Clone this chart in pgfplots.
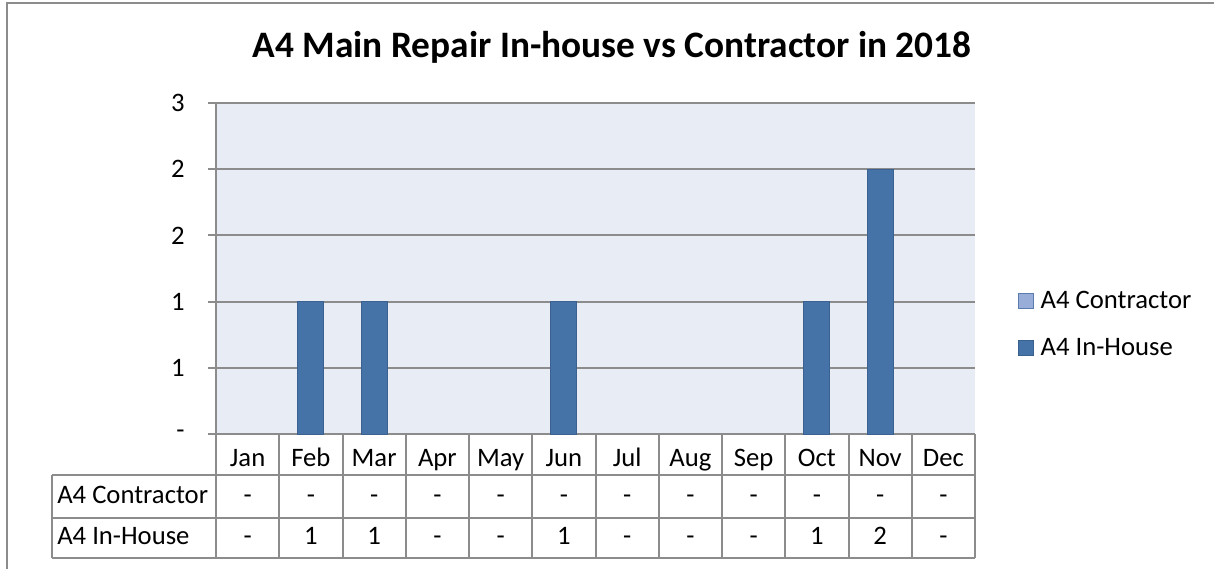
\documentclass[border=0pt]{standalone}
\usepackage{fontspec}
\setmainfont{Carlito}
\usepackage{pgfplots}
\pgfplotsset{compat=1.18}
\definecolor{barblue}{HTML}{4572A7}
\definecolor{barborder}{HTML}{3A6190}
\definecolor{lightblue}{HTML}{98AED8}
\definecolor{lightborder}{HTML}{5A7BAE}
\definecolor{plotbg}{HTML}{E8ECF5}
\definecolor{linegray}{HTML}{8C8C8C}

\begin{document}
\begin{tikzpicture}[font=\fontsize{20}{24}\selectfont]
% pixel grid of the reference (1px = 0.75pt, y downwards)
\begin{scope}[x=0.75pt,y=-0.75pt]
  \useasboundingbox (0,0) rectangle (1214,569);
  \draw[linegray, line width=1.5pt] (7,569) -- (7,3) -- (1214,3);
  \node[anchor=base, font=\bfseries\fontsize{28}{32}\selectfont] at (612,57)
    {A4 Main Repair In-house vs Contractor in 2018};
\end{scope}

\begin{axis}[
  at={(162pt,-325.5pt)}, anchor=south west,
  scale only axis, width=569.25pt, height=248.25pt,
  xmin=-0.5, xmax=11.5, ymin=0, ymax=2.5,
  ybar stacked, bar width=19.5pt,
  axis background/.style={fill=plotbg},
  axis lines*=left,
  axis line style={linegray, line width=1.5pt},
  ymajorgrids, grid style={linegray, line width=1.5pt},
  ytick={0,0.5,1,1.5,2,2.5}, yticklabels={-,1,1,2,2,3},
  ytick style={linegray, line width=1.5pt},
  tick align=outside, major tick length=6pt,
  yticklabel style={anchor=east, xshift=-14pt},
  xtick={0,...,11},
  xticklabels={Jan,Feb,Mar,Apr,May,Jun,Jul,Aug,Sep,Oct,Nov,Dec},
  xtick style={draw=none},
  xticklabel style={anchor=base, yshift=-18pt},
  legend style={at={(axis description cs:1,0.332)}, anchor=west,
    xshift=29pt, draw=none, fill=none, row sep=17pt,
    font=\fontsize{20}{24}\selectfont,
    nodes={inner xsep=5pt}},
  legend cell align=left,
]
\addplot[fill=lightblue, draw=none,
  legend image code/.code={\draw[fill=lightblue, draw=lightborder, line width=0.75pt] (0pt,-5.6pt) rectangle (11.25pt,5.6pt);}]
  coordinates {(0,0) (1,0) (2,0) (3,0) (4,0) (5,0) (6,0) (7,0) (8,0) (9,0) (10,0) (11,0)};
\addlegendentry{A4 Contractor}
\addplot[fill=barblue, draw=barborder, line width=0.75pt,
  legend image code/.code={\draw[fill=barblue, draw=barborder, line width=0.75pt] (0pt,-5.6pt) rectangle (11.25pt,5.6pt);}]
  coordinates {(0,0) (1,1) (2,1) (3,0) (4,0) (5,1) (6,0) (7,0) (8,0) (9,1) (10,2) (11,0)};
\addlegendentry{A4 In-House}
\end{axis}

% data table under the plot
\begin{scope}[x=0.75pt,y=-0.75pt]
  \foreach \k in {0,...,12}
    \draw[linegray, line width=1.5pt] ({216+63.25*\k},434) -- ({216+63.25*\k},558);
  \foreach \yy in {475,518,558}
    \draw[linegray, line width=1.5pt] (52,\yy) -- (975,\yy);
  \draw[linegray, line width=1.5pt] (52,475) -- (52,558);
  \node[anchor=base west, inner xsep=0pt] at (57,503) {A4 Contractor};
  \node[anchor=base west, inner xsep=0pt] at (57,544) {A4 In-House};
  \foreach \k in {0,...,11}
    \node[anchor=base] at ({247.6+63.25*\k},503) {-};
  \foreach \v [count=\k from 0] in {-,1,1,-,-,1,-,-,-,1,2,-}
    \node[anchor=base] at ({247.6+63.25*\k},544) {\v};
\end{scope}
\end{tikzpicture}
\end{document}
